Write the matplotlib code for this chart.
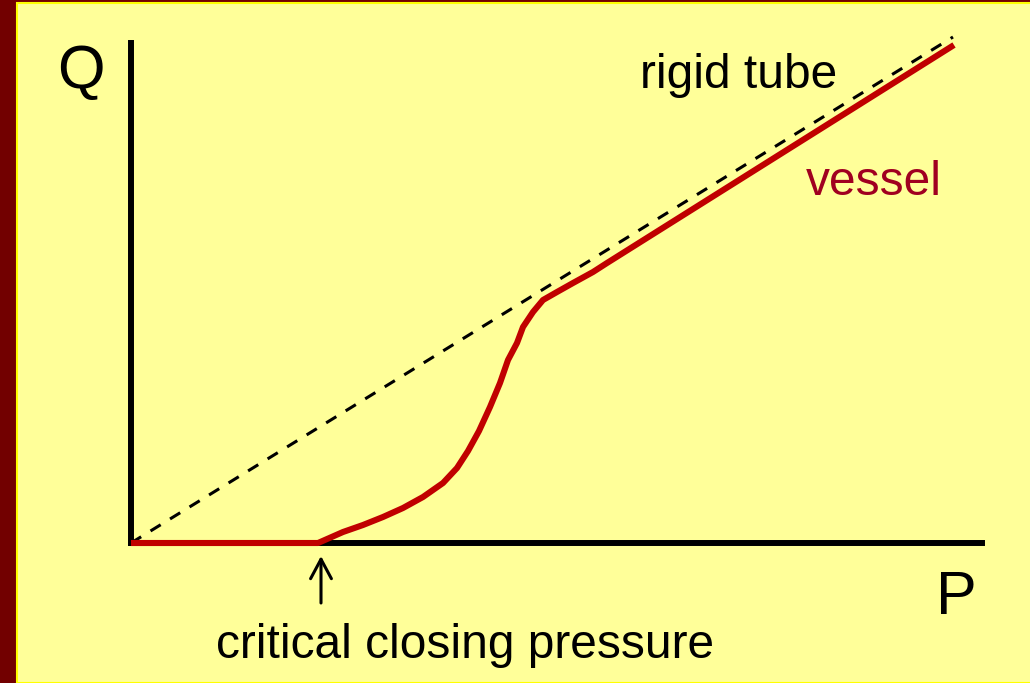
import numpy as np
import matplotlib.pyplot as plt
from matplotlib.patches import Rectangle

plt.rcParams['font.family'] = ['Liberation Sans', 'DejaVu Sans']

# rigid tube: straight line through the origin
rigid_P = [0.0, 8.22]
rigid_Q = [0.0, 5.06]

# collapsible vessel: zero flow until critical closing pressure
vessel_P = [0.0, 1.87, 2.12, 2.32, 2.52, 2.72, 2.92, 3.12, 3.26, 3.37, 3.48, 3.59, 3.69, 3.77,
            3.86, 3.92, 4.02, 4.12, 4.26, 4.42, 4.62, 4.76, 8.23]
vessel_Q = [0.0, 0.00, 0.11, 0.18, 0.26, 0.35, 0.46, 0.60, 0.75, 0.92, 1.12, 1.36, 1.60, 1.83,
            2.00, 2.16, 2.31, 2.43, 2.51, 2.60, 2.71, 2.80, 4.98]

crit_P = 1.90

fig = plt.figure(figsize=(10.3, 6.83), dpi=100)
fig.patch.set_facecolor('#720000')

# yellow slide panel
fig.patches.append(Rectangle((17 / 1030, 0), 1, 1 - 3 / 683, transform=fig.transFigure,
                             facecolor='#FFFF99', edgecolor='#FFFF00', lw=1.5, zorder=0))

ax = fig.add_axes([0, 0, 1, 1])
ax.set_zorder(1)
ax.set_facecolor('none')
ax.set_xlim(-1.31, 8.99)
ax.set_ylim(-1.40, 5.43)

ax.plot(rigid_P, rigid_Q, color='black', lw=2.2, dashes=(3.9, 3.6), zorder=3)
ax.plot(vessel_P, vessel_Q, color='#C00000', lw=4.4, solid_capstyle='butt',
        solid_joinstyle='round', zorder=4)

# axes
for s in ['top', 'right']:
    ax.spines[s].set_visible(False)
ax.spines['left'].set_position(('data', 0))
ax.spines['bottom'].set_position(('data', 0))
ax.spines['left'].set_bounds(0, 5.0)
ax.spines['bottom'].set_bounds(0, 8.51)
for s in ['left', 'bottom']:
    ax.spines[s].set_linewidth(4.3)
    ax.spines[s].set_zorder(2)
ax.set_xticks([])
ax.set_yticks([])

ax.text(-0.74, 4.55, 'Q', fontsize=44, va='baseline', ha='left')
ax.text(8.05, -0.71, 'P', fontsize=44, va='baseline', ha='left')
ax.text(5.09, 4.55, 'rigid tube', fontsize=34.5, va='baseline', ha='left')
ax.text(6.75, 3.48, 'vessel', fontsize=34.5, va='baseline', ha='left', color='#A00020')
ax.text(3.34, -1.15, 'critical closing pressure', fontsize=34.5, va='baseline', ha='center')

ax.annotate('', xy=(crit_P, -0.13), xytext=(crit_P, -0.60),
            arrowprops=dict(arrowstyle='->,head_length=1.4,head_width=0.75', lw=2.2,
                            color='black', shrinkA=0, shrinkB=0))

plt.savefig('out.png', dpi=100, facecolor=fig.get_facecolor())
